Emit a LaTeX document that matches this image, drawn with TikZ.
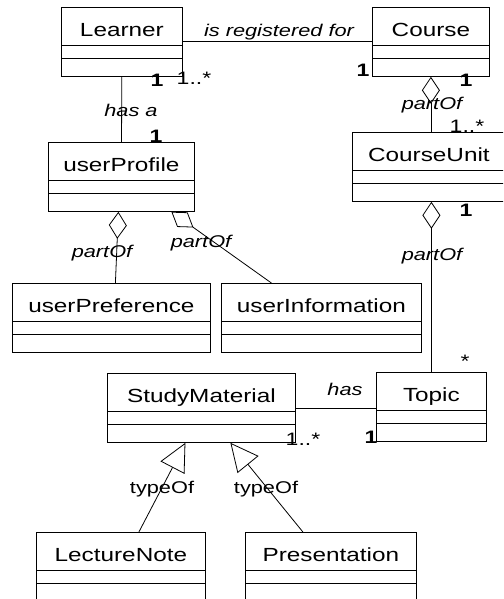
\documentclass[tikz,border=0pt]{standalone}
\usepackage{fontspec}
\setmainfont{Liberation Sans}[FakeStretch=1.28]
\usetikzlibrary{arrows.meta,calc}

\begin{document}
\begin{tikzpicture}[x=1pt, y=-1pt,
        classbox/.style={draw, line width=0.8pt, anchor=north west, inner sep=0pt,
            text height=29pt, text depth=40pt, font=\fontsize{19}{22}\selectfont},
        role/.style={font=\fontsize{17}{20}\selectfont\itshape, anchor=base, inner sep=0pt},
        kind/.style={font=\fontsize{17}{20}\selectfont, anchor=base, inner sep=0pt},
        mult/.style={font=\fontsize{18}{20}\selectfont, anchor=base, inner sep=0pt},
        one/.style={font=\fontsize{18}{20}\selectfont\bfseries, anchor=base, inner sep=0pt},
        assoc/.style={line width=0.8pt},
        partof/.style={line width=0.8pt, {Diamond[open, length=27pt, width=18pt]}-},
        typeof/.style={line width=0.8pt, -{Triangle[open, length=28pt, width=27pt]}}]
        \useasboundingbox (0,0) rectangle (503,599);
        \clip (0,0) rectangle (503,599);
        %\draw[gray, dashed] (0,0) grid[step=50] (503,599);

        \node[classbox, minimum width=121pt] (learner) at (61,7) {Learner};
        \node[classbox, minimum width=117pt] (course) at (372,7) {Course};
        \node[classbox, minimum width=146pt] (userProfile) at (48,142) {userProfile};
        \node[classbox, minimum width=153pt] (courseUnit) at (352,132) {CourseUnit};
        \node[classbox, minimum width=198pt] (userPreference) at (12,283) {userPreference};
        \node[classbox, minimum width=200pt] (userInformation) at (221,283) {userInformation};
        \node[classbox, minimum width=188pt] (studyMaterial) at (107,373) {StudyMaterial};
        \node[classbox, minimum width=110pt] (topic) at (376,372) {Topic};
        \node[classbox, minimum width=169pt] (lectureNote) at (36,532) {LectureNote};
        \node[classbox, minimum width=171pt] (presentation) at (245,532) {Presentation};

        \foreach \c in {learner,course,userProfile,courseUnit,userPreference,
                userInformation,studyMaterial,topic,lectureNote,presentation}{
            \draw[line width=0.8pt] ($(\c.north west)+(0,38)$) -- ($(\c.north east)+(0,38)$)
                ($(\c.north west)+(0,51)$) -- ($(\c.north east)+(0,51)$);
        }

        \draw[assoc] (learner) -- (course);
        \draw[assoc] (learner) -- (userProfile);
        \draw[partof] (course.south) -- (course.south |- courseUnit.north);
        \draw[partof] (courseUnit.south -| topic.north) -- (topic.north);
        \draw[partof] ($(userProfile.south)+(-3,0)$) -- ($(userPreference.north)+(4,0)$);
        \draw[partof] ($(userProfile.south)+(50,0)$) -- ($(userInformation.north)+(-50,0)$);
        \draw[assoc] (studyMaterial.east) -- (studyMaterial.east -| topic.west);
        \draw[typeof] ($(lectureNote.north)+(18,0)$) -- ($(studyMaterial.south)+(-16,0)$);
        \draw[typeof] ($(presentation.north)+(-28,0)$) -- ($(studyMaterial.south)+(29,0)$);

        \node[role] (regLabel) at (279,37) {is registered for};
        \node[one] (learnerOne) at (157,87) {1};
        \node[mult] (learnerMany) at (194,85) {1..*};
        \node[one] (courseOne) at (363,77) {1};
        \node[one] (courseWhole) at (466,87) {1};
        \node[role] (hasA) at (131,117) {has a};
        \node[one] (profileOne) at (156,142) {1};
        \node[role] (coursePart) at (432,110) {partOf};
        \node[mult] (unitMany) at (467,132) {1..*};
        \node[one] (unitWhole) at (466,216) {1};
        \node[role] (unitPart) at (432,260) {partOf};
        \node[mult] (topicMany) at (465,367) {*};
        \node[role] (prefPart) at (102,257) {partOf};
        \node[role] (infoPart) at (201,247) {partOf};
        \node[role] (hasLabel) at (345,395) {has};
        \node[mult] (materialMany) at (303,445) {1..*};
        \node[one] (topicOne) at (371,443) {1};
        \node[kind] (noteType) at (162,493) {typeOf};
        \node[kind] (presType) at (266,493) {typeOf};
    \end{tikzpicture}
\end{document}
